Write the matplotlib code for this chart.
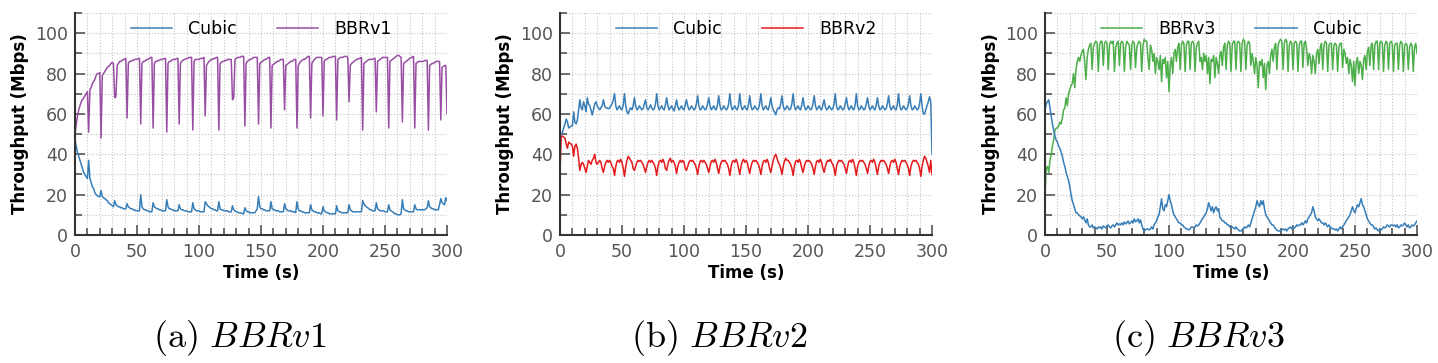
import numpy as np
import matplotlib.pyplot as plt
from matplotlib.ticker import MultipleLocator

plt.rcParams['mathtext.fontset'] = 'cm'

# throughput samples, one per second, t = 0..300 s (Mbps)
time_s = np.arange(0, 301)

cubic_v1 = [
    47, 44, 41, 39, 37, 35, 33, 31, 30, 29,
    28, 37, 28, 26, 24, 23, 21, 20, 19.5, 19,
    19, 22, 19, 18.5, 18, 17.5, 17, 16, 15.5, 15,
    14.5, 14, 17, 15, 14.5, 14, 14, 13.5, 13.5, 13,
    13, 13, 15.5, 14, 13.5, 13, 13, 12.5, 12.5, 12,
    12, 12, 12, 20, 14, 13, 12.5, 12.5, 12, 12,
    11.5, 11.5, 11.5, 16, 14, 13.5, 13, 13, 12.5, 12.5,
    12, 12, 12, 12, 17.5, 14, 13, 13, 12.5, 12.5,
    12, 12, 12, 12, 15, 13, 12.5, 12.5, 12, 12,
    12, 11.5, 11.5, 11.5, 11.5, 16, 13, 12.5, 12, 12,
    12, 11.5, 11.5, 11.5, 11.5, 16.5, 15.5, 14.5, 14, 13.5,
    13, 13, 12.5, 12.5, 12, 12, 16.5, 13, 12.5, 12.5,
    12, 12, 12, 12, 11.5, 11.5, 11.5, 14.5, 12.5, 12,
    11.5, 11.5, 11, 11, 11, 10.5, 10.5, 13.5, 12, 11.5,
    11.5, 11, 11, 11, 11, 11, 12, 13, 19, 14,
    13, 13, 12.5, 12.5, 12, 12, 12, 12, 16.5, 13,
    12.5, 12.5, 12, 12, 12, 11.5, 11.5, 11.5, 11.5, 15.5,
    13, 12.5, 12, 12, 12, 11.5, 11.5, 11.5, 11, 16.5,
    13, 12, 12, 11.5, 11.5, 11, 11, 11, 11, 11,
    15, 12.5, 12, 11.5, 11.5, 11, 11, 11, 10.5, 10.5,
    14, 12, 11.5, 11, 11, 10.5, 10.5, 10.5, 10.5, 10.5,
    10.5, 14.5, 12, 11.5, 11.5, 11, 11, 11, 11, 11,
    11, 15, 12.5, 12, 11.5, 11.5, 11.5, 11.5, 11.5, 11.5,
    11.5, 11.5, 17, 15.5, 14.5, 14, 13.5, 13, 12.5, 12.5,
    12, 12, 12, 16, 13, 12.5, 12, 12, 12, 12,
    11.5, 11.5, 11.5, 15, 12.5, 12, 11.5, 11, 10.5, 10.5,
    10, 10, 10, 10.5, 17.5, 13, 12.5, 12, 12, 11.5,
    11.5, 11.5, 11.5, 11.5, 15, 13, 12.5, 12.5, 12.5, 12.5,
    12.5, 12.5, 12.5, 13, 13.5, 17, 14, 13.5, 13, 13,
    12.5, 12.5, 12.5, 12.5, 15, 18, 16, 15.5, 15, 18.5,
    17,
]

bbr_v1 = [
    50, 55, 59, 62, 64, 66, 67, 68, 69, 70,
    71, 51, 72, 73, 75, 76, 77, 79, 80, 80,
    80.5, 48, 79, 80, 81, 82, 83, 83.5, 84, 85,
    85.5, 85, 68, 68.5, 84, 85, 86, 86, 86.5, 87,
    87, 87.5, 58, 85, 86, 86, 86.5, 86.5, 87, 87,
    87, 87.5, 87.5, 55, 85, 86, 86, 86.5, 87, 87,
    87.5, 88, 88, 53, 85, 86, 86, 86.5, 86.5, 87,
    87, 87, 87.5, 87.5, 51, 85, 86, 86, 86.5, 87,
    87, 87, 87.5, 87.5, 55, 85, 86, 86.5, 87, 87,
    87.5, 87.5, 88, 88, 88, 52, 86, 87, 87, 87,
    87, 87.5, 87.5, 87.5, 88, 59, 84, 85, 86, 86.5,
    87, 87, 87.5, 87.5, 88, 88, 52, 85, 85.5, 86,
    86, 86.5, 86.5, 87, 87, 87, 87, 67, 68, 87,
    87.5, 88, 88, 88, 88.5, 88.5, 88.5, 54, 85, 86,
    86.5, 87, 87, 87.5, 88, 88, 88, 88, 55, 85,
    85.5, 86, 86.5, 87, 87, 87.5, 88, 88, 53, 84,
    84.5, 85, 85.5, 86, 86, 86.5, 87, 87, 87, 62,
    84, 84.5, 85, 85.5, 86, 86, 86.5, 87, 87, 53,
    84, 85, 86, 86.5, 87, 87, 87.5, 88, 88.5, 88.5,
    58, 85, 86, 87, 87.5, 88, 88, 88, 88, 88,
    59, 86, 87, 87, 87.5, 88, 88, 88, 88.5, 88.5,
    88.5, 57, 87, 87.5, 88, 88, 88, 88.5, 88.5, 88.5,
    88, 66, 84, 85, 85.5, 86, 86.5, 87, 87, 87.5,
    87.5, 88, 52, 85, 85.5, 86, 86.5, 87, 87, 87,
    87, 87.5, 87.5, 61, 86, 86.5, 87, 87.5, 88, 88,
    88, 88, 88, 53, 86, 86.5, 87, 87.5, 88, 88.5,
    89, 89, 88.5, 88, 56, 85, 85.5, 86, 86.5, 87,
    87.5, 88, 88, 88.5, 53, 85, 85.5, 86, 86, 86,
    86, 86, 86.5, 86.5, 86.5, 52, 84, 84.5, 85, 85,
    85.5, 86, 86, 86, 86, 57, 83, 83.5, 84, 84,
    60,
]

cubic_v2 = [
    49, 50, 51, 53, 55, 57.5, 56, 53, 53.5, 54,
    54, 61, 56, 55, 57, 62, 67, 63, 62, 66,
    64, 61, 68, 65, 64, 62, 59.5, 62, 65, 66,
    64, 63, 62, 63, 64, 67, 64, 63, 63, 62.5,
    63, 64, 65, 67,
    70, 64, 62, 63, 64, 62.5, 62, 64.5,
    70, 64, 61, 60, 62, 63, 62, 64,
    68, 64, 62, 62.5, 64, 63, 62, 62.5, 65,
    67, 63, 62, 63, 64.5, 63, 62, 62.5, 65,
    70, 64, 62, 63, 64, 62.5, 62, 64.5,
    68, 64, 62, 63, 64, 62.5, 61.5, 64,
    67, 63.5, 62, 63, 64, 62.5, 62, 64.5,
    67, 64, 62, 62.5, 64, 63, 62, 62.5, 65,
    69, 64, 62, 62.5, 64, 63, 62, 62.5, 65,
    68, 64, 62, 63, 64, 62.5, 62, 64.5,
    69, 64, 62, 62.5, 64, 63, 62, 62.5, 65,
    70, 64, 62, 63, 64, 62.5, 62, 64.5,
    70, 64, 62, 63, 64, 62.5, 62, 64.5,
    69, 64, 62, 62.5, 64, 63, 62, 62.5, 65,
    70, 64, 62, 63, 64, 62.5, 62, 64.5,
    68, 64, 62, 61, 59.5, 62, 63, 62.5, 65,
    69, 64, 62, 62.5, 64, 63, 62, 62.5, 65,
    70, 64, 62, 63, 64, 62.5, 62, 64.5,
    68, 64, 62, 62.5, 64, 63, 62, 62.5, 65,
    69, 64, 62, 63, 64, 62.5, 62, 64.5,
    67, 63.5, 62, 62.5, 64, 63, 62, 62.5, 65,
    70, 64, 62, 62.5, 64, 63, 62, 62.5, 65,
    68, 64, 62, 63, 64, 62.5, 62, 64.5,
    70, 64, 62, 62.5, 64, 63, 62, 62.5, 65,
    68, 64, 62, 63, 64, 62.5, 62, 64.5,
    68, 64, 62, 62.5, 64, 63, 62, 62.5, 65,
    69, 64, 62, 63, 64, 62.5, 62, 64.5,
    70, 64, 62, 62.5, 64, 63, 62, 62.5, 65,
    69, 64, 62, 62.5, 64, 63, 62, 62.5, 65,
    70, 64, 60, 60, 62, 64, 66,
    68.5, 66, 40,
]

bbr_v2 = [
    31, 49, 49, 48.5, 48, 45, 43, 46, 45.5, 45,
    44, 39, 44, 45, 43, 38, 32, 35, 36, 35,
    33, 31, 34, 37, 36, 35, 37, 38, 40, 36,
    35, 36, 37, 36, 33, 31, 34, 36, 37, 36,
    37, 36, 34, 33,
    29.5, 34, 36.5, 37, 36, 37.5, 36, 33,
    29, 34, 37, 39, 38, 37, 36, 33,
    32, 34, 36, 37, 36.5, 37, 36, 35, 33,
    31, 34, 36, 37, 36, 37, 36, 35, 33,
    29.5, 34, 36.5, 37, 36, 37.5, 36, 33,
    32, 35, 37, 38, 36, 37, 36, 34,
    30.5, 34, 36, 37, 36, 37, 36, 33,
    32, 34, 36, 37, 36.5, 37, 36, 35, 33,
    30, 34, 36.5, 37, 36, 37, 36, 35, 33,
    31, 34, 36.5, 37, 36, 37.5, 36, 33,
    30.5, 34, 36, 37, 36.5, 37, 36, 35, 33,
    29.5, 34, 36.5, 37, 36, 37.5, 36, 33,
    30, 34, 36.5, 37.5, 36, 37, 36, 33,
    30.5, 34, 36, 37, 36.5, 37, 36, 35, 33,
    30, 34, 36.5, 37, 36, 37.5, 36, 33,
    31, 34, 37, 39, 40, 38, 36, 35, 33,
    30, 34, 36.5, 38, 37, 37, 36, 35, 33,
    29.5, 34, 36.5, 37, 36, 37.5, 36, 33,
    31, 34, 36, 37, 36.5, 37, 36, 35, 33,
    30, 34, 36.5, 37, 36, 37.5, 36, 33,
    31, 34, 36, 37, 36.5, 37.5, 36, 35, 33,
    29.5, 34, 36, 37, 36.5, 37, 36, 35, 33,
    30.5, 34, 36.5, 37, 36, 37.5, 36, 33,
    29.5, 34, 36, 37, 36.5, 37, 36, 35, 33,
    30.5, 34, 36.5, 37, 36, 37.5, 36, 33,
    30, 34, 36, 37, 36.5, 37, 36, 35, 33,
    30.5, 34, 36.5, 37, 36, 37.5, 36, 33,
    30, 34, 36, 37, 36.5, 37, 36, 35, 33,
    29.5, 34, 36, 37, 36.5, 37, 36, 35, 33,
    29, 34, 37, 39, 38, 36, 34,
    31, 37, 30,
]

bbr_v3 = [
    20, 33, 34, 31, 37, 40, 44, 47, 52, 53,
    53, 54, 56, 55, 58, 62, 63, 68, 64, 70,
    72, 74, 75, 80, 73, 82, 86, 88, 86, 89,
    91, 92, 86, 77, 88, 92, 94, 95, 82, 93,
    95, 96, 95, 81, 94, 96, 96, 84, 95, 96,
    95, 82, 94, 96, 95, 96, 81, 93, 95, 96,
    84, 95, 96, 95, 81, 93, 96, 95, 94, 82,
    94, 96, 95, 83, 93, 95, 96, 95, 81, 94,
    97, 96, 96, 88, 82, 94, 92, 86, 90, 80,
    88, 86, 82, 89, 76, 87, 85, 88, 78, 86,
    71, 84, 88, 80, 90, 92, 86, 93, 95, 82,
    94, 96, 95, 81, 94, 96, 96, 82, 95, 96,
    95, 81, 93, 95, 96, 86, 88, 82, 90, 86,
    89, 80, 88, 75, 87, 86, 89, 78, 88, 85,
    80, 89, 91, 84, 93, 95, 82, 94, 96, 95,
    81, 94, 96, 96, 82, 95, 96, 95, 81, 95,
    97, 96, 82, 94, 96, 95, 84, 90, 86, 80,
    88, 84, 73, 86, 84, 87, 78, 85, 72, 84,
    86, 80, 89, 92, 86, 93, 95, 82, 94, 96,
    97, 96, 82, 95, 97, 96, 81, 94, 96, 95,
    82, 95, 96, 95, 81, 94, 96, 96, 83, 95,
    96, 92, 84, 90, 88, 80, 89, 86, 80, 90,
    92, 85, 93, 95, 82, 94, 96, 95, 81, 94,
    95, 95, 82, 94, 95, 94, 81, 93, 95, 95,
    83, 92, 90, 85, 88, 80, 87, 84, 76, 86,
    74, 85, 88, 80, 86, 84, 77, 87, 89, 82,
    91, 93, 84, 94, 95, 82, 94, 96, 96, 82,
    95, 96, 95, 81, 94, 96, 95, 82, 95, 96,
    95, 81, 94, 95, 95, 82, 94, 96, 95, 81,
    94, 95, 94, 82, 93, 95, 94, 81, 93, 95,
    90,
]

cubic_v3 = [
    62, 65, 66, 67, 63, 59, 55, 52, 49, 47,
    46, 44, 43, 41, 39, 36, 34, 31, 29, 27,
    24, 20, 17, 15, 13, 11, 11, 10, 9.5, 9,
    8, 9, 7.5, 6, 8, 5, 4, 4, 5, 3.5,
    4, 3.5, 3, 4, 3.5, 4, 3, 4.5, 4, 3.5,
    4.5, 5, 4, 3.5, 4.5, 5, 4, 5, 6, 5,
    5.5, 5, 6, 5, 6.5, 5.5, 6, 7, 5.5, 6,
    7, 6, 8, 6.5, 7, 8, 6, 7.5, 5, 3,
    2, 2.5, 3, 3, 2.5, 3, 4, 3, 5, 6,
    7, 9, 10, 14, 18, 13, 12, 15, 14, 17,
    20, 17, 15, 12, 10, 9, 8, 7, 6, 6,
    5, 5, 4, 3.5, 3, 3, 2.5, 3, 4, 4,
    3.5, 4, 5, 4.5, 5, 6, 7, 8, 9, 10,
    11, 13, 16, 14, 12, 14, 11, 13, 14, 12,
    13, 9, 8, 7, 7, 6, 6, 5, 5, 4,
    4, 4, 3.5, 3, 4, 3, 2.5, 2, 2, 2.5,
    3, 4, 3.5, 4, 5, 4, 6, 8, 10, 12,
    14, 17, 15, 14, 17, 15, 17, 13, 10, 9,
    8, 7, 6, 5, 5, 4, 3, 2.5, 2, 2,
    2, 2.5, 3, 2.5, 3, 2, 3, 3.5, 4, 3,
    4, 3.5, 4, 5, 4.5, 5, 5, 6, 5, 6,
    7, 6, 8, 9, 10, 11, 14, 12, 9, 8,
    7, 8, 7, 6, 6, 5, 6, 5, 4, 5,
    4, 3.5, 3, 3, 2.5, 3, 2, 3, 4, 3,
    4, 5, 6, 7, 8, 9, 10, 12, 14, 12,
    11, 13, 15, 14, 16, 18, 15, 14, 12, 10,
    8, 7, 6, 5, 5, 4, 3, 3.5, 2.5, 2,
    3, 2.5, 3, 4, 3.5, 4, 5, 4.5, 4, 5,
    5, 4.5, 5, 4, 5, 3.5, 4, 5, 4.5, 5,
    6, 5, 4, 5, 3.5, 4, 5, 4.5, 5, 6,
    7,
]

for series in (cubic_v1, bbr_v1, cubic_v2, bbr_v2, bbr_v3, cubic_v3):
    assert len(series) == len(time_s), len(series)

blue, purple, red, green = '#377eb8', '#984ea3', '#e41a1c', '#4daf4a'

panels = [
    ('a', 'BBRv1', [('Cubic', cubic_v1, blue), ('BBRv1', bbr_v1, purple)]),
    ('b', 'BBRv2', [('Cubic', cubic_v2, blue), ('BBRv2', bbr_v2, red)]),
    ('c', 'BBRv3', [('BBRv3', bbr_v3, green), ('Cubic', cubic_v3, blue)]),
]

W, H = 1438, 363
fig = plt.figure(figsize=(W / 100, H / 100), dpi=100)
lefts = [75, 560, 1045]

for i, (letter, name, lines) in enumerate(panels):
    ax = fig.add_axes([lefts[i] / W, 128 / H, 372 / W, 222 / H])
    for label, vals, color in lines:
        ax.plot(time_s, vals, color=color, lw=1.1, label=label)

    ax.set_xlim(0, 300)
    ax.set_ylim(0, 110)
    ax.xaxis.set_major_locator(MultipleLocator(50))
    ax.xaxis.set_minor_locator(MultipleLocator(10))
    ax.yaxis.set_major_locator(MultipleLocator(20))
    ax.yaxis.set_minor_locator(MultipleLocator(10))
    ax.grid(True, which='both', ls=':', lw=0.8, color='#c4c4c4')
    ax.set_axisbelow(True)

    for side in ('top', 'right'):
        ax.spines[side].set_visible(False)
    for side in ('left', 'bottom'):
        ax.spines[side].set_color('#333333')
        ax.spines[side].set_linewidth(1.5)

    ax.tick_params(which='both', direction='in', color='#555555', width=1.2)
    ax.tick_params(which='major', length=7, labelsize=12.5, labelcolor='#555555')
    ax.tick_params(which='minor', length=5)
    ax.tick_params(axis='x', which='major', pad=6)
    ax.tick_params(axis='y', which='major', pad=5)

    ax.set_xlabel('Time (s)', fontsize=12, fontweight='bold', labelpad=2)
    ax.set_ylabel('Throughput (Mbps)', fontsize=12, fontweight='bold', labelpad=4)

    ax.legend(loc='upper center', ncol=2, frameon=False, fontsize=12.5,
              handlelength=2.4, columnspacing=2.3, handletextpad=0.9,
              borderaxespad=0.0)

    fig.text((2 * i + 1) / 6, 25 / H, r'$\mathrm{(%s)}\ \mathit{%s}$' % (letter, name),
             ha='center', va='center', fontsize=26)

fig.savefig('out.png', dpi=100)
